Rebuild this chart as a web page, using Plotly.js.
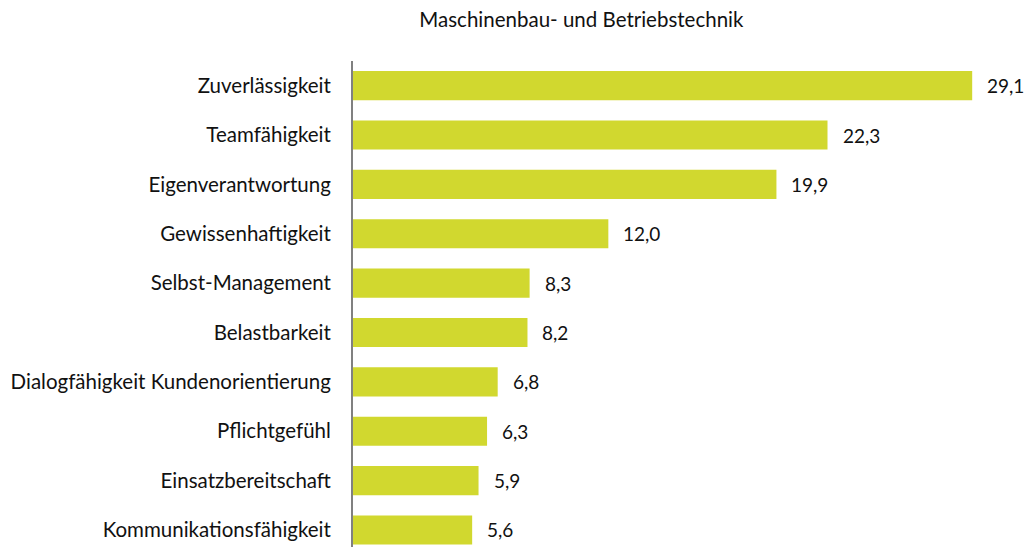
<!DOCTYPE html>
<html><head><meta charset="utf-8">
<script src="https://cdn.plot.ly/plotly-3.0.1.min.js"></script>
<style>body{margin:0}</style>
</head><body><div id="chart" style="width:1029px;height:547px"></div>
<script>
const categories = ["Zuverlässigkeit","Teamfähigkeit","Eigenverantwortung","Gewissenhaftigkeit","Selbst-Management","Belastbarkeit","Dialogfähigkeit Kundenorientierung","Pflichtgefühl","Einsatzbereitschaft","Kommunikationsfähigkeit"];
const values = [29.1,22.3,19.9,12.0,8.3,8.2,6.8,6.3,5.9,5.6];
const chartTitle = "Maschinenbau- und Betriebstechnik";

const cats = categories.slice().reverse();
const vals = values.slice().reverse();
const fontFam = "Lato, 'Open Sans', sans-serif";

const data = [{
  type: 'bar', orientation: 'h', x: vals, y: cats,
  marker: {color: '#d1d82f'}, width: 0.59,
  hoverinfo: 'none'
}];
const annotations = cats.map((c,i)=>({
  x: vals[i], y: c, xref:'x', yref:'y',
  text: vals[i].toFixed(1).replace('.', ','),
  showarrow:false, xanchor:'left', xshift: 13,
  font:{family:fontFam, size:19, color:'#111'}
}));
const layout = {
  width:1029, height:547,
  margin:{l:353, r:10, t:61, b:0},
  paper_bgcolor:'white', plot_bgcolor:'white',
  title:{text: chartTitle, x:0.565, xref:'container', y:0.963, yref:'container', xanchor:'center', yanchor:'middle',
    font:{family:fontFam, size:20.5, color:'#111'}},
  xaxis:{range:[0,31.3], visible:false, fixedrange:true},
  yaxis:{type:'category', range:[-0.345, 9.5], showline:true, linecolor:'#808080', linewidth:2,
    showgrid:false, zeroline:false, ticks:'', ticklabelstandoff:16,
    tickfont:{family:fontFam, size:20.5, color:'#111'}},
  annotations: annotations,
  showlegend:false
};
Plotly.newPlot('chart', data, layout, {displayModeBar:false, staticPlot:true});
</script></body></html>
